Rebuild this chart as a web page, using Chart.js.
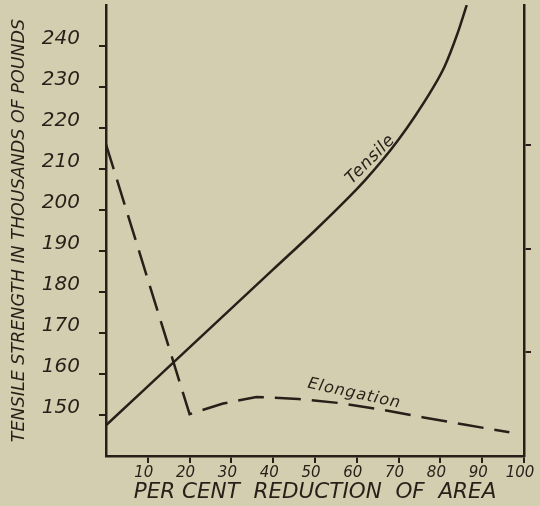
<!DOCTYPE html>
<html>
<head>
<meta charset="utf-8">
<script src="https://cdn.jsdelivr.net/npm/chart.js@4.4.0/dist/chart.umd.min.js"></script>
<style>
    html, body { margin: 0; padding: 0; background: #d4ceb1; overflow: hidden; }
</style>
</head>
<body>
<canvas id="lineChart" width="540" height="506"></canvas>
<script>
// valores
const tensileReduction = [0, 10, 20, 30, 40, 50, 58, 62, 66, 70, 74, 78, 81, 84, 86.3];
const tensileStrength = [147.5, 157, 166.5, 176, 185.5, 195, 203, 207.3, 212, 217.2, 223, 229.4, 235, 242.8, 250];

const elongationReduction = [0, 20, 28, 36, 46, 56, 66, 76, 86, 96.5];
const elongationValues = [216, 150.2, 152.8, 154.4, 153.9, 152.9, 151.3, 149.4, 147.6, 145.8];

const xTicks = [10, 20, 30, 40, 50, 60, 70, 80, 90, 100];
const yTicks = [150, 160, 170, 180, 190, 200, 210, 220, 230, 240];
const rightTicks = [1, 2, 3];

const curveNotes = ['Tensile', 'Elongation'];
const noteX = [63.3, 59.4];
const noteY = [212.3, 155.2];

const ink = '#2a1e18';
const fontFamily = '"DejaVu Sans", "Liberation Sans", sans-serif';

function toPoints(xs, ys) {
    return xs.map((x, i) => ({ x: x, y: ys[i] }));
}

// escreve os nomes das curvas ao longo delas
const curveLabels = {
    id: 'curveLabels',
    afterDatasetsDraw(chart) {
        const ctx = chart.ctx;
        const angles = [-0.785, 0.215];
        const sizes = [17, 16];
        const spacing = ['0.5px', '1px'];
        ctx.save();
        ctx.fillStyle = ink;
        ctx.textAlign = 'center';
        ctx.textBaseline = 'middle';
        curveNotes.forEach((txt, i) => {
            const px = chart.scales.x.getPixelForValue(noteX[i]);
            const py = chart.scales.y.getPixelForValue(noteY[i]);
            ctx.save();
            ctx.translate(px, py);
            ctx.rotate(angles[i]);
            ctx.font = 'italic ' + sizes[i] + 'px ' + fontFamily;
            ctx.letterSpacing = spacing[i];
            ctx.fillText(txt, 0, 0);
            ctx.restore();
        });
        ctx.restore();
    }
};

const lineChart = document.getElementById('lineChart').getContext('2d');

new Chart(lineChart, {
    type: 'line',
    data: {
        datasets: [
            {
                label: 'Tensile',
                data: toPoints(tensileReduction, tensileStrength),
                borderColor: ink,
                borderWidth: 2.5,
                pointRadius: 0,
                cubicInterpolationMode: 'monotone',
                fill: false
            },
            {
                label: 'Elongation',
                data: toPoints(elongationReduction, elongationValues),
                borderColor: ink,
                borderWidth: 2.5,
                borderDash: [26, 11],
                pointRadius: 0,
                tension: 0,
                fill: false
            }
        ]
    },
    options: {
        responsive: false,
        animation: false,
        layout: {
            padding: { top: 5, right: 0, left: 0, bottom: 0 }
        },
        plugins: {
            legend: { display: false },
            tooltip: { enabled: false }
        },
        scales: {
            x: {
                type: 'linear',
                min: 0,
                max: 100,
                afterBuildTicks: axis => { axis.ticks = xTicks.map(v => ({ value: v })); },
                afterFit: axis => { axis.height = 50; axis.paddingLeft = 0; axis.paddingRight = 0; },
                border: { color: ink, width: 2.5 },
                grid: { drawOnChartArea: false, color: ink, lineWidth: 2, tickLength: 7 },
                ticks: {
                    color: ink,
                    font: { family: fontFamily, size: 15, style: 'italic' },
                    padding: 1,
                    labelOffset: -4,
                    maxRotation: 0
                },
                title: {
                    display: true,
                    text: 'PER CENT  REDUCTION  OF  AREA',
                    color: ink,
                    font: { family: fontFamily, size: 21.5, style: 'italic', lineHeight: 1 },
                    padding: { top: 0, bottom: 3 }
                }
            },
            y: {
                min: 140,
                max: 250,
                afterBuildTicks: axis => { axis.ticks = yTicks.map(v => ({ value: v })); },
                afterFit: axis => { axis.width = 106; axis.paddingTop = 0; axis.paddingBottom = 0; },
                border: { color: ink, width: 2.5 },
                grid: { drawOnChartArea: false, color: ink, lineWidth: 2, tickLength: 7 },
                ticks: {
                    color: ink,
                    font: { family: fontFamily, size: 20, style: 'italic' },
                    padding: 19,
                    labelOffset: -7
                },
                title: {
                    display: true,
                    text: 'TENSILE STRENGTH IN THOUSANDS OF POUNDS',
                    color: ink,
                    font: { family: fontFamily, size: 17.5, style: 'italic' },
                    padding: { top: 9, bottom: 0 }
                }
            },
            y2: {
                position: 'right',
                min: 0,
                max: 4.35,
                afterBuildTicks: axis => { axis.ticks = rightTicks.map(v => ({ value: v })); },
                afterFit: axis => { axis.width = 16; axis.paddingTop = 0; axis.paddingBottom = 0; },
                border: { color: ink, width: 2.5 },
                grid: { drawOnChartArea: false, color: ink, lineWidth: 2, tickLength: 7 },
                ticks: { display: false }
            }
        }
    },
    plugins: [curveLabels]
});
</script>
</body>
</html>
